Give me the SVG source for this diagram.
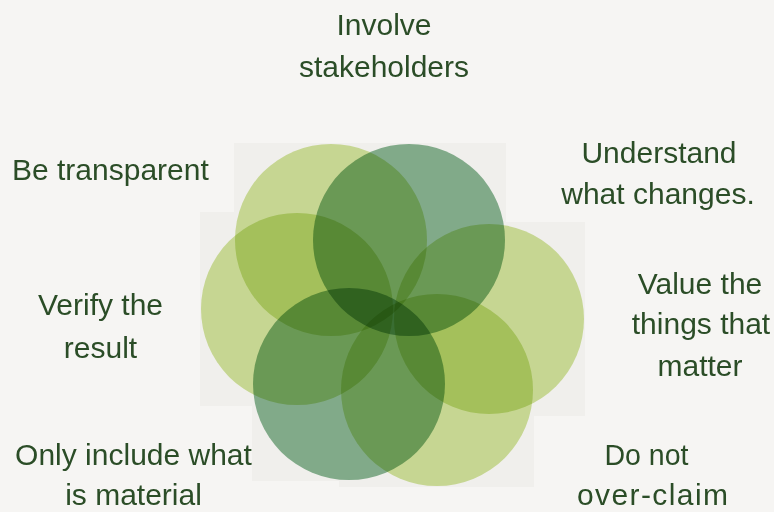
<svg xmlns="http://www.w3.org/2000/svg" width="774" height="512" viewBox="0 0 774 512">
<style>
.bg{fill:#f6f5f3}
.sq{fill:#f0efec}
.lt{fill:#d3e59e;mix-blend-mode:multiply}
.tl{fill:#89b694;mix-blend-mode:multiply}
.lbl{font-family:"Liberation Sans",Arial,sans-serif;font-size:30px;fill:#2b4d27}
.c{text-anchor:middle}
</style>
<rect class="bg" x="0" y="0" width="774" height="512"/>
<g id="backdrops">
<rect class="sq" x="234" y="143" width="194" height="194"/>
<rect class="sq" x="312" y="143" width="194" height="194"/>
<rect class="sq" x="393" y="222" width="192" height="194"/>
<rect class="sq" x="339" y="293" width="195" height="194"/>
<rect class="sq" x="252" y="287" width="194" height="194"/>
<rect class="sq" x="200" y="212" width="194" height="194"/>
</g>
<g id="connectors"></g>
<g id="circle-transparent"><circle class="lt" cx="331" cy="240" r="96"/></g>
<g id="circle-value"><circle class="lt" cx="489" cy="319" r="95"/></g>
<g id="circle-overclaim"><circle class="lt" cx="437" cy="390" r="96"/></g>
<g id="circle-verify"><circle class="lt" cx="297" cy="309" r="96"/></g>
<g id="circle-stakeholders"><circle class="tl" cx="409" cy="240" r="96"/></g>
<g id="circle-material"><circle class="tl" cx="349" cy="384" r="96"/></g>
<g id="label-stakeholders">
<text class="lbl c" x="384" y="35">Involve</text>
<text class="lbl c" x="384" y="77">stakeholders</text>
</g>
<g id="label-transparent">
<text class="lbl" x="12" y="180">Be transparent</text>
</g>
<g id="label-verify">
<text class="lbl c" x="100.5" y="315">Verify the</text>
<text class="lbl c" x="100.5" y="358">result</text>
</g>
<g id="label-changes">
<text class="lbl c" x="659" y="163">Understand</text>
<text class="lbl c" x="658" y="204">what changes.</text>
</g>
<g id="label-value">
<text class="lbl c" x="700" y="294">Value the</text>
<text class="lbl c" x="701" y="334">things that</text>
<text class="lbl c" x="700" y="376">matter</text>
</g>
<g id="label-material">
<text class="lbl c" x="133.5" y="465">Only include what</text>
<text class="lbl c" x="133.5" y="505">is material</text>
</g>
<g id="label-overclaim">
<text class="lbl c" x="646.5" y="465" textLength="84" lengthAdjust="spacingAndGlyphs">Do not</text>
<text class="lbl c" x="652.5" y="505" textLength="151" lengthAdjust="spacing">over-claim</text>
</g>
</svg>
